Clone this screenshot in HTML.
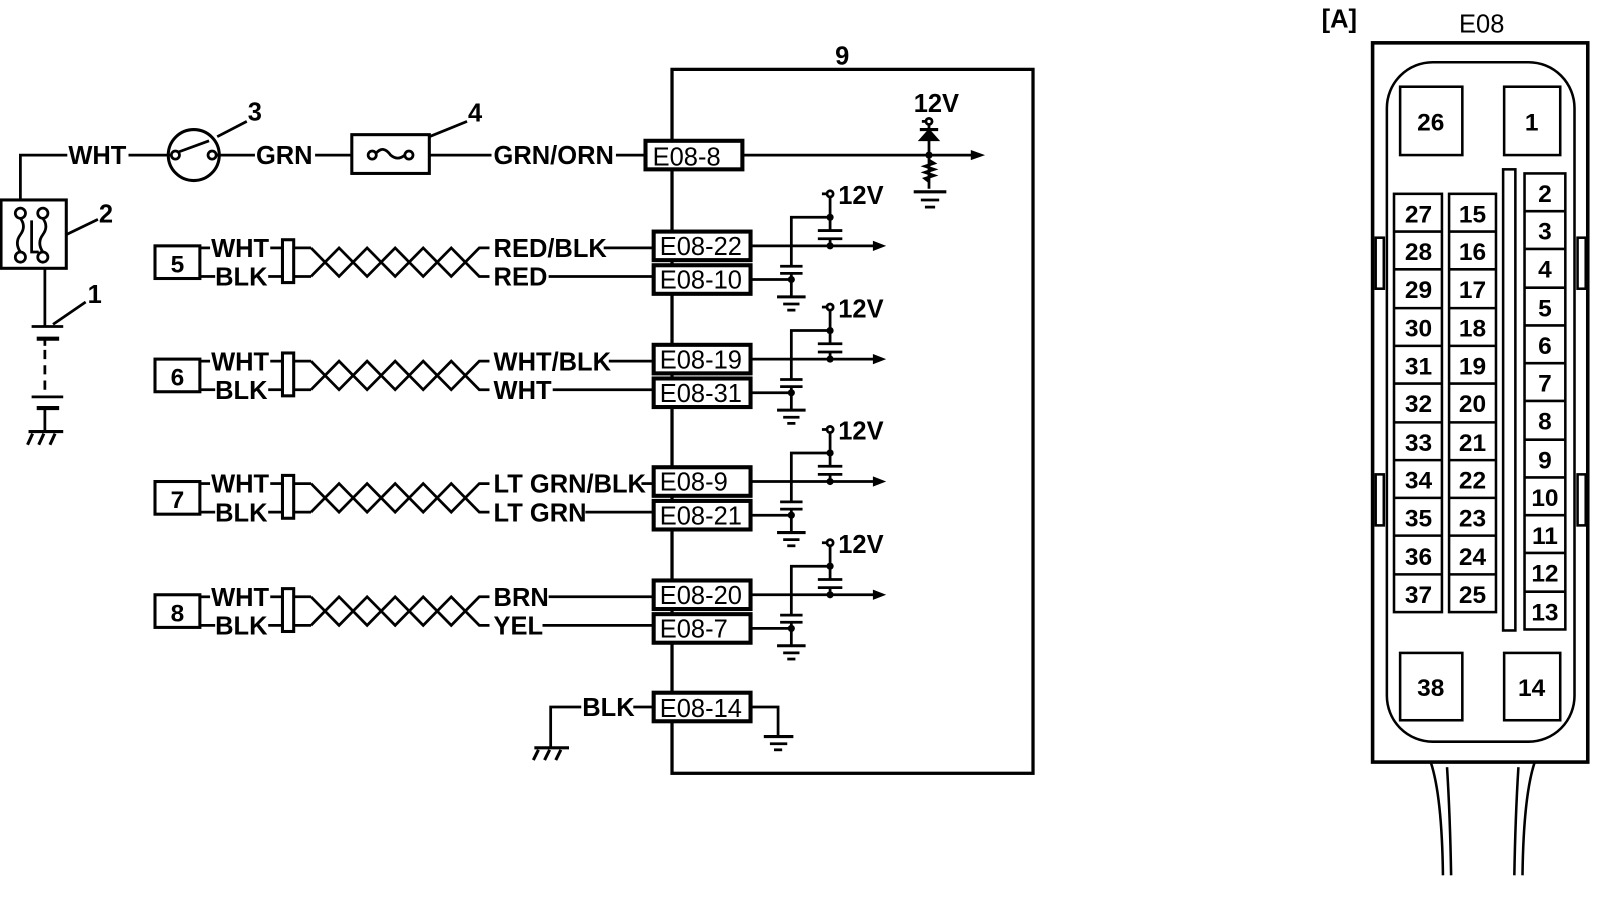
<!DOCTYPE html>
<html><head><meta charset="utf-8"><style>
html,body{margin:0;padding:0;background:#fff;}
svg{display:block;}
text{font-family:"Liberation Sans",Arial,sans-serif;fill:#000;}
.l{font-size:25px;font-weight:bold;}
.b{font-size:25px;}
.n{font-size:24px;font-weight:bold;text-anchor:middle;}
</style></head><body>
<svg width="1600" height="910" viewBox="0 0 1569 892" preserveAspectRatio="none" xmlns="http://www.w3.org/2000/svg">
<g stroke="#000" stroke-width="2.7" fill="none">
<!-- frame 9 -->
<rect x="659" y="68" width="354" height="690" stroke-width="3.2"/>
<!-- top wire -->
<polyline points="20,195 20,152 66,152"/>
<line x1="126" y1="152" x2="167" y2="152"/>
<circle cx="190" cy="152" r="25" stroke-width="3"/>
<circle cx="172" cy="152" r="4"/><circle cx="208" cy="152" r="4"/>
<line x1="175" y1="149" x2="205" y2="138"/>
<line x1="212" y1="152" x2="250" y2="152"/>
<line x1="309" y1="152" x2="345" y2="152"/>
<rect x="345" y="132" width="76" height="38" stroke-width="3"/>
<circle cx="365" cy="152" r="4"/><circle cx="401" cy="152" r="4"/>
<path d="M369,150 Q376,142 383,152 Q390,158 397,152"/>
<line x1="421" y1="152" x2="482" y2="152"/>
<line x1="604" y1="152" x2="632" y2="152"/>
<line x1="729" y1="152" x2="955" y2="152"/>
<!-- leaders -->
<line x1="213" y1="134" x2="242" y2="119"/>
<line x1="421" y1="134" x2="458" y2="119"/>
<line x1="65" y1="230" x2="96" y2="215"/>
<line x1="52" y1="318" x2="84" y2="296"/>
<!-- box 2 -->
<rect x="1" y="196" width="64" height="67" stroke-width="3"/>
<circle cx="20" cy="209" r="5"/><circle cx="42" cy="209" r="5"/>
<circle cx="20" cy="252" r="5"/><circle cx="42" cy="252" r="5"/>
<path d="M20,214 Q26,222 20,230 Q14,238 20,247"/>
<path d="M42,214 Q48,222 42,230 Q36,238 42,247"/>
<polyline points="31,216 31,247 38,247"/>
<!-- battery -->
<line x1="44" y1="263" x2="44" y2="320"/>
<line x1="31" y1="320" x2="62" y2="320"/>
<line x1="36" y1="332" x2="58" y2="332" stroke-width="4"/>
<line x1="44" y1="332" x2="44" y2="339"/>
<line x1="44" y1="343" x2="44" y2="382" stroke-dasharray="9,6"/>
<line x1="31" y1="389" x2="62" y2="389"/>
<line x1="36" y1="400" x2="58" y2="400" stroke-width="4"/>
<line x1="44" y1="400" x2="44" y2="423"/>
<line x1="28" y1="423" x2="62" y2="423" stroke-width="3"/>
<path d="M32,425 l-5,11 M43,425 l-5,11 M54,425 l-5,11" stroke-width="3"/>
<!-- 12V diode -->
<circle cx="911" cy="119" r="3"/>
<line x1="904" y1="119" x2="908" y2="119"/>
<line x1="911" y1="122" x2="911" y2="185"/>
<line x1="902" y1="127" x2="920" y2="127" stroke-width="3"/>
<polygon points="903,137 919,137 911,128" fill="#000"/>
<path d="M911,157 l5,3 l-9,3 l9,3 l-9,3 l9,3 l-9,3 l4,3"/>
<line x1="896" y1="188" x2="928" y2="188" stroke-width="3"/>
<line x1="903" y1="196" x2="921" y2="196"/>
<line x1="907" y1="203" x2="917" y2="203"/>
</g>
<circle cx="911" cy="152" r="3.5"/>
<polygon points="952,147 966,152 952,157"/>
<g fill="#000">
<text class="l" x="67" y="161">WHT</text>
<text class="l" x="251" y="161">GRN</text>
<text class="l" x="484" y="161">GRN/ORN</text>
<text class="l" x="243" y="118">3</text>
<text class="l" x="459" y="119">4</text>
<text class="l" x="97" y="218">2</text>
<text class="l" x="86" y="297">1</text>
<text class="l" x="819" y="63">9</text>
<text class="l" x="896" y="110">12V</text>
</g>
<rect x="633" y="138" width="95" height="28" fill="#fff" stroke="#000" stroke-width="4"/>
<text class="b" x="640" y="162">E08-8</text>

<defs>
<g id="row">
<g stroke="#000" stroke-width="2.7" fill="none">
<rect x="152" y="241" width="44" height="32" stroke-width="3"/>
<line x1="196" y1="243" x2="206" y2="243"/>
<line x1="196" y1="271" x2="211" y2="271"/>
<line x1="265" y1="243" x2="277" y2="243"/>
<line x1="263" y1="271" x2="277" y2="271"/>
<rect x="277" y="235" width="11" height="42" stroke-width="3"/>
<line x1="288" y1="243" x2="305" y2="243"/>
<line x1="288" y1="271" x2="305" y2="271"/>
<polyline points="305,243 332.5,271 360,243 387.5,271 415,243 442.5,271 470,243 480,243"/>
<polyline points="305,271 332.5,243 360,271 387.5,243 415,271 442.5,243 470,271 480,271"/>
<line x1="737" y1="241" x2="858" y2="241"/>
<circle cx="814" cy="190" r="3"/>
<line x1="806" y1="190" x2="811" y2="190"/>
<line x1="814" y1="193" x2="814" y2="226"/>
<line x1="814" y1="234" x2="814" y2="241"/>
<line x1="802" y1="226" x2="826" y2="226"/>
<line x1="802" y1="234" x2="826" y2="234"/>
<polyline points="814,213 776,213 776,261"/>
<line x1="765" y1="261" x2="787" y2="261"/>
<line x1="765" y1="268" x2="787" y2="268"/>
<line x1="737" y1="274" x2="776" y2="274"/>
<line x1="776" y1="268" x2="776" y2="291"/>
<line x1="762" y1="291" x2="790" y2="291" stroke-width="3"/>
<line x1="768" y1="298" x2="784" y2="298"/>
<line x1="772" y1="304" x2="780" y2="304"/>
</g>
<circle cx="814" cy="213" r="3.5"/><circle cx="814" cy="241" r="3.5"/><circle cx="776" cy="274" r="3.5"/>
<polygon points="856,236 869,241 856,246"/>
<text class="l" x="822" y="200">12V</text>
<text class="l" x="207" y="252">WHT</text>
<text class="l" x="211" y="280">BLK</text>
<rect x="641" y="227" width="95" height="28" fill="#fff" stroke="#000" stroke-width="4"/>
<rect x="641" y="260" width="95" height="28" fill="#fff" stroke="#000" stroke-width="4"/>
</g>
</defs>

<use href="#row"/>
<use href="#row" transform="translate(0,111)"/>
<use href="#row" transform="translate(0,231)"/>
<use href="#row" transform="translate(0,342)"/>

<g stroke="#000" stroke-width="2.7">
<line x1="592" y1="243" x2="641" y2="243"/>
<line x1="538" y1="271" x2="641" y2="271"/>
<line x1="597" y1="354" x2="641" y2="354"/>
<line x1="542" y1="382" x2="641" y2="382"/>
<line x1="629" y1="474" x2="641" y2="474"/>
<line x1="574" y1="502" x2="641" y2="502"/>
<line x1="538" y1="585" x2="641" y2="585"/>
<line x1="532" y1="613" x2="641" y2="613"/>
</g>
<g>
<text class="n" x="174" y="267">5</text>
<text class="n" x="174" y="378">6</text>
<text class="n" x="174" y="498">7</text>
<text class="n" x="174" y="609">8</text>
<text class="l" x="484" y="252">RED/BLK</text>
<text class="l" x="484" y="280">RED</text>
<text class="l" x="484" y="363">WHT/BLK</text>
<text class="l" x="484" y="391">WHT</text>
<text class="l" x="484" y="483">LT GRN/BLK</text>
<text class="l" x="484" y="511">LT GRN</text>
<text class="l" x="484" y="594">BRN</text>
<text class="l" x="484" y="622">YEL</text>
<text class="b" x="647" y="250">E08-22</text>
<text class="b" x="647" y="283">E08-10</text>
<text class="b" x="647" y="361">E08-19</text>
<text class="b" x="647" y="394">E08-31</text>
<text class="b" x="647" y="481">E08-9</text>
<text class="b" x="647" y="514">E08-21</text>
<text class="b" x="647" y="592">E08-20</text>
<text class="b" x="647" y="625">E08-7</text>
</g>
<!-- E08-14 -->
<g stroke="#000" stroke-width="2.7" fill="none">
<polyline points="570,693 540,693 540,733"/>
<line x1="524" y1="733" x2="558" y2="733" stroke-width="3"/>
<path d="M528,735 l-5,10 M539,735 l-5,10 M550,735 l-5,10" stroke-width="3"/>
<line x1="621" y1="693" x2="641" y2="693"/>
<polyline points="737,693 763,693 763,721"/>
<line x1="749" y1="722" x2="778" y2="722" stroke-width="3"/>
<line x1="755" y1="729" x2="772" y2="729"/>
<line x1="759" y1="735" x2="767" y2="735"/>
</g>
<text class="l" x="571" y="702">BLK</text>
<rect x="641" y="679" width="95" height="28" fill="#fff" stroke="#000" stroke-width="4"/>
<text class="b" x="647" y="703">E08-14</text>

<!-- connector A -->
<text class="l" x="1296" y="27">[A]</text>
<text class="b" x="1453" y="32" text-anchor="middle">E08</text>
<g stroke="#000" fill="none" stroke-width="2.5">
<rect x="1346" y="42" width="211" height="705" stroke-width="3.5"/>
<rect x="1360" y="61" width="184" height="666" rx="45" ry="45"/>
<rect x="1373" y="85" width="61" height="67"/>
<rect x="1475" y="85" width="55" height="67"/>
<rect x="1373" y="640" width="61" height="66"/>
<rect x="1475" y="640" width="55" height="66"/>
<rect x="1474" y="166" width="12" height="452"/>
<rect x="1349" y="233" width="8" height="50"/>
<rect x="1349" y="465" width="8" height="50"/>
<rect x="1547" y="233" width="8" height="50"/>
<rect x="1547" y="465" width="8" height="50"/>
<rect x="1367" y="190" width="47" height="410"/>
<rect x="1421" y="190" width="46" height="410"/>
<rect x="1495" y="170" width="40" height="447"/>
<path d="M1367,227 h47 M1367,264 h47 M1367,302 h47 M1367,339 h47 M1367,376 h47 M1367,414 h47 M1367,451 h47 M1367,488 h47 M1367,525 h47 M1367,563 h47"/>
<path d="M1421,227 h46 M1421,264 h46 M1421,302 h46 M1421,339 h46 M1421,376 h46 M1421,414 h46 M1421,451 h46 M1421,488 h46 M1421,525 h46 M1421,563 h46"/>
<path d="M1495,207 h40 M1495,244 h40 M1495,282 h40 M1495,319 h40 M1495,356 h40 M1495,393 h40 M1495,431 h40 M1495,468 h40 M1495,505 h40 M1495,542 h40 M1495,580 h40"/>
<path d="M1403,747 Q1414,780 1415,858 M1419,752 Q1422,800 1423,858 M1505,747 Q1494,780 1493,858 M1489,752 Q1486,800 1485,858"/>
</g>
<g>
<text class="n" x="1403" y="128">26</text>
<text class="n" x="1502" y="128">1</text>
<text class="n" x="1403" y="682">38</text>
<text class="n" x="1502" y="682">14</text>
<text class="n" x="1391" y="218">27</text><text class="n" x="1444" y="218">15</text>
<text class="n" x="1391" y="255">28</text><text class="n" x="1444" y="255">16</text>
<text class="n" x="1391" y="292">29</text><text class="n" x="1444" y="292">17</text>
<text class="n" x="1391" y="330">30</text><text class="n" x="1444" y="330">18</text>
<text class="n" x="1391" y="367">31</text><text class="n" x="1444" y="367">19</text>
<text class="n" x="1391" y="404">32</text><text class="n" x="1444" y="404">20</text>
<text class="n" x="1391" y="442">33</text><text class="n" x="1444" y="442">21</text>
<text class="n" x="1391" y="479">34</text><text class="n" x="1444" y="479">22</text>
<text class="n" x="1391" y="516">35</text><text class="n" x="1444" y="516">23</text>
<text class="n" x="1391" y="554">36</text><text class="n" x="1444" y="554">24</text>
<text class="n" x="1391" y="591">37</text><text class="n" x="1444" y="591">25</text>
<text class="n" x="1515" y="198">2</text>
<text class="n" x="1515" y="235">3</text>
<text class="n" x="1515" y="272">4</text>
<text class="n" x="1515" y="310">5</text>
<text class="n" x="1515" y="347">6</text>
<text class="n" x="1515" y="384">7</text>
<text class="n" x="1515" y="421">8</text>
<text class="n" x="1515" y="459">9</text>
<text class="n" x="1515" y="496">10</text>
<text class="n" x="1515" y="533">11</text>
<text class="n" x="1515" y="570">12</text>
<text class="n" x="1515" y="608">13</text>
</g>
</svg>
</body></html>
